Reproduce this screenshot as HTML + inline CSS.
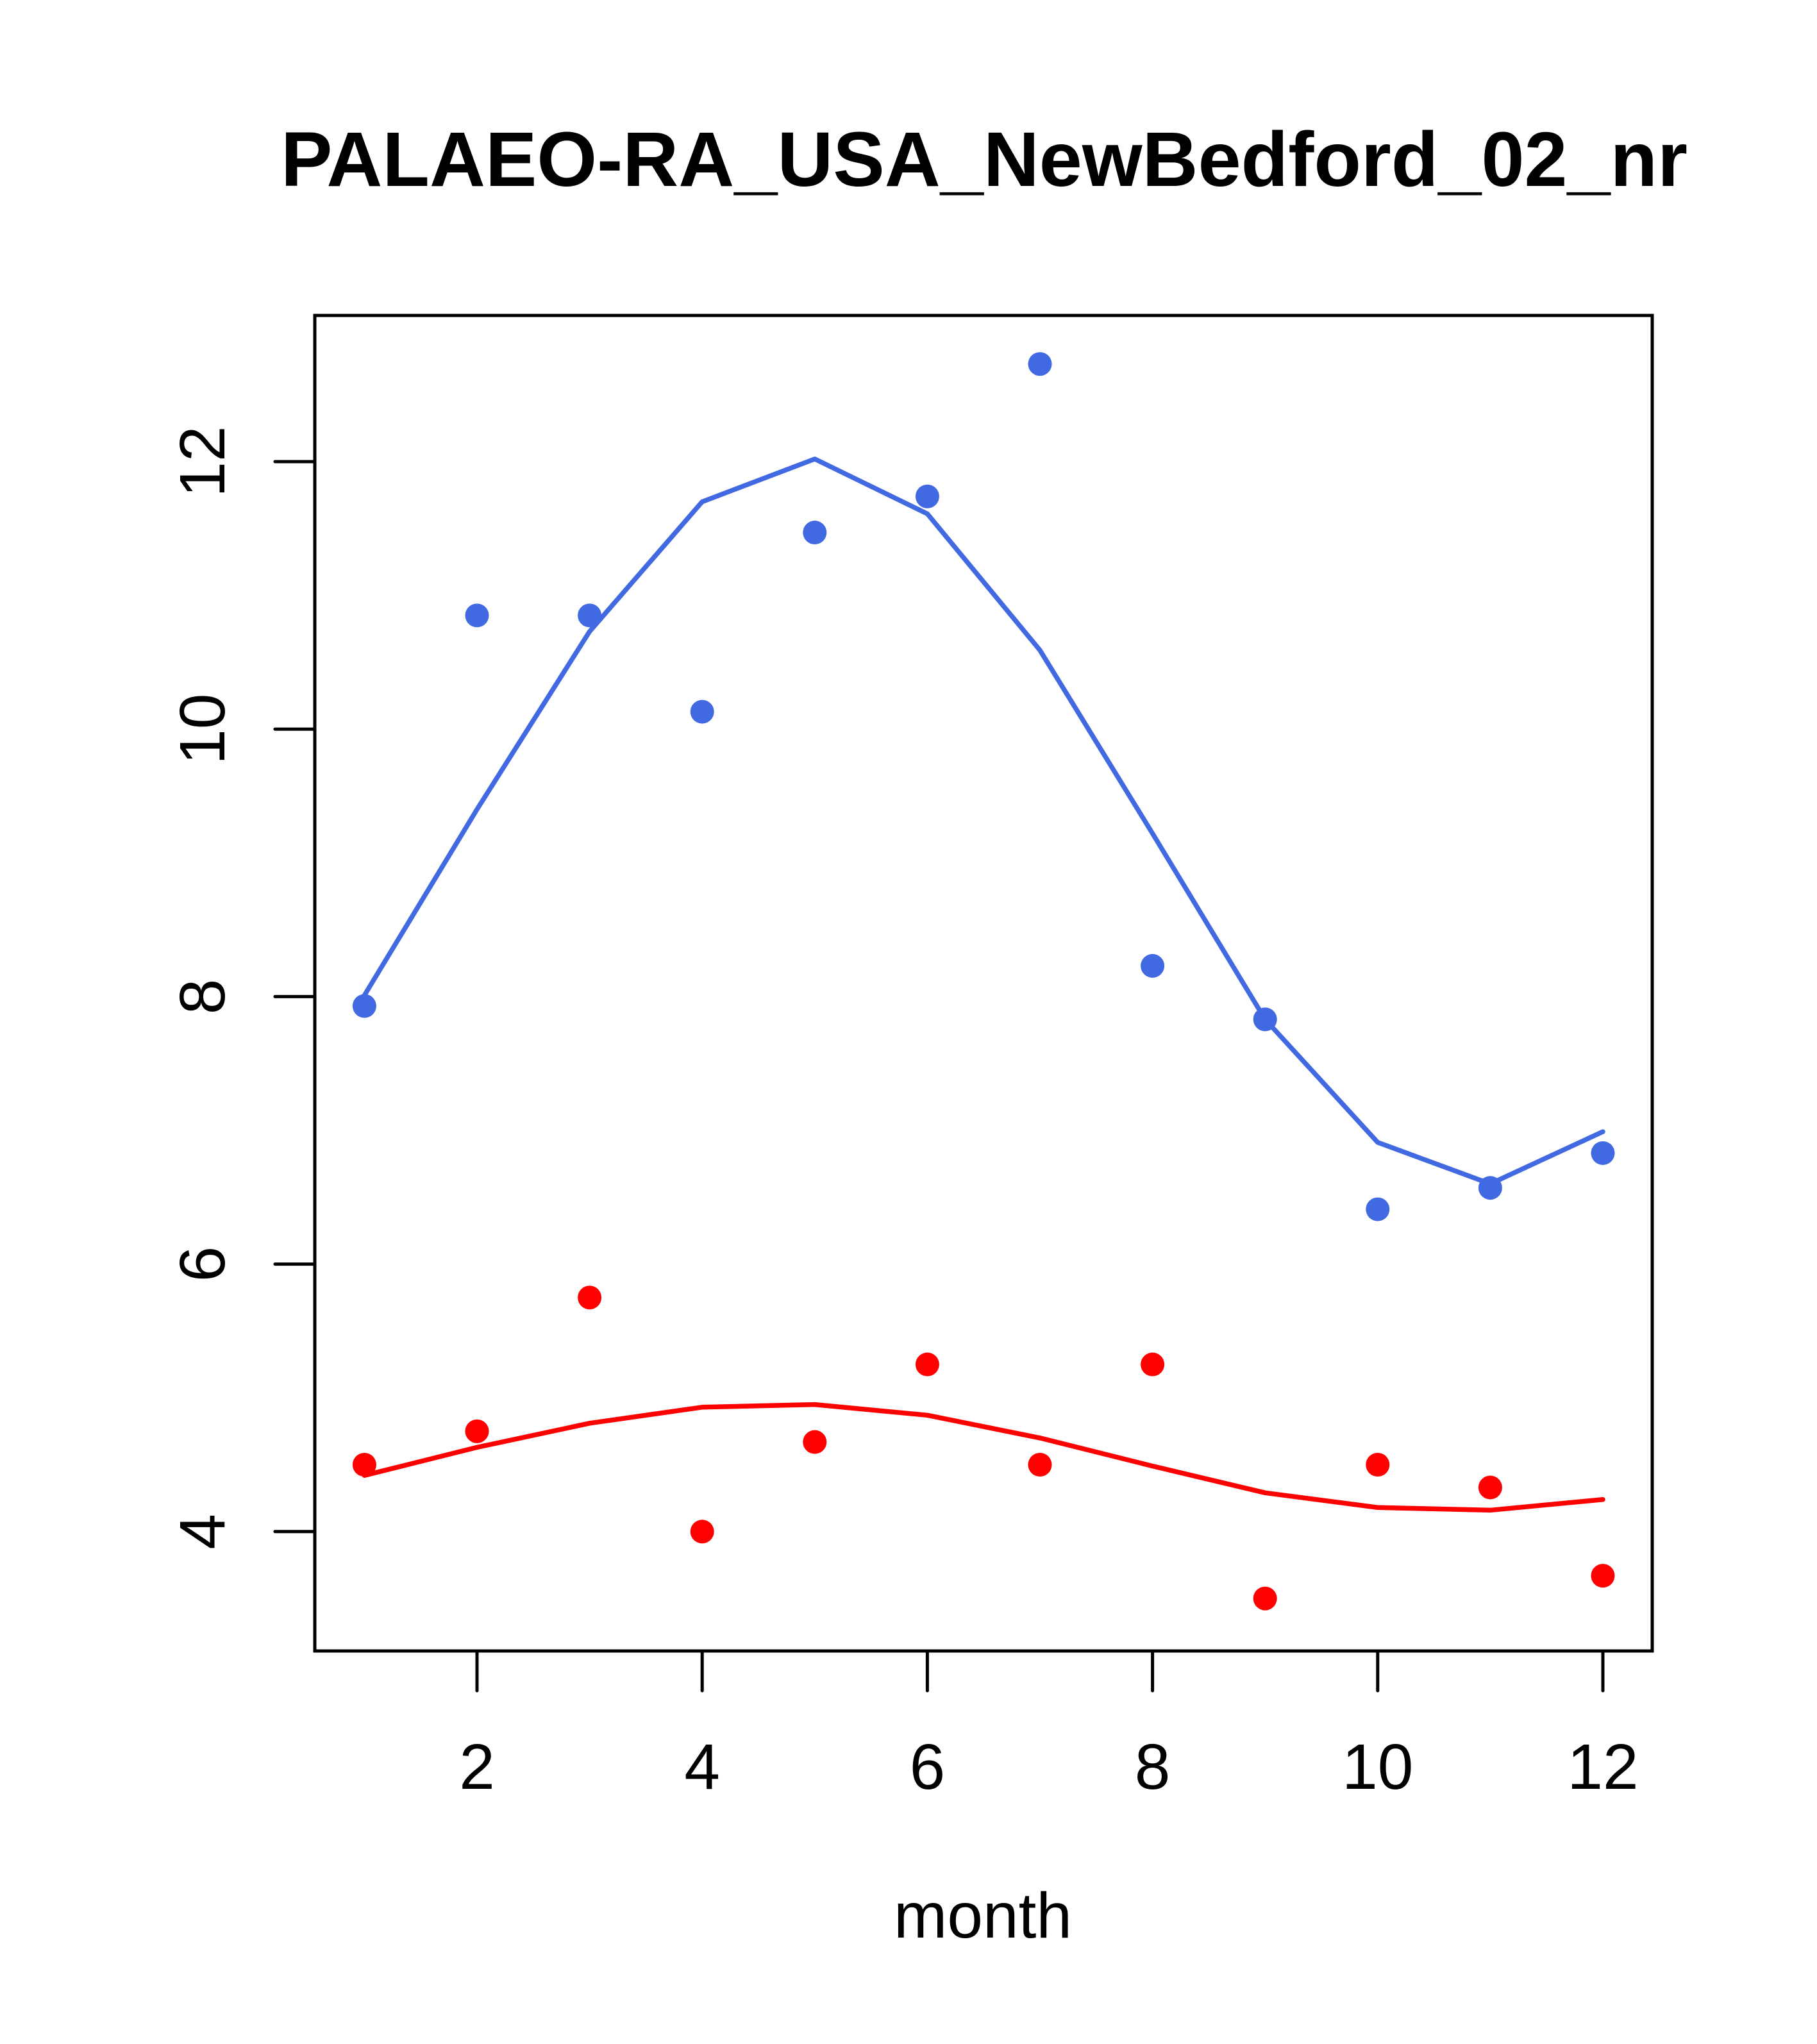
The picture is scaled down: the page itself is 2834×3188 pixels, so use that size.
<!DOCTYPE html>
<html><head><meta charset="utf-8"><style>body{margin:0;background:#fff}svg{display:block}text{font-family:"Liberation Sans",sans-serif}</style></head>
<body>
<svg id="chart" width="2834" height="3188" viewBox="0 0 2834 3188" xmlns="http://www.w3.org/2000/svg">
<rect width="2834" height="3188" fill="#fff"/>
<text x="1535" y="290" font-size="120.5" font-weight="bold" text-anchor="middle">PALAEO-RA_USA_NewBedford_02_nr</text>
<rect x="491" y="492" width="2086" height="2083" fill="none" stroke="#000" stroke-width="5"/>
<text x="1533" y="3022" font-size="100" text-anchor="middle">month</text>
<g id="marks"></g>
</svg>
<script>
const months=[1,2,3,4,5,6,7,8,9,10,11,12];
const bluePoints=[7.93,10.85,10.85,10.13,11.47,11.74,12.73,8.23,7.83,6.41,6.57,6.83];
const blueLine=[8.01,9.40,10.73,11.70,12.02,11.61,10.59,9.22,7.83,6.91,6.60,6.99];
const redPoints=[4.50,4.75,5.75,4.00,4.67,5.25,4.50,5.25,3.50,4.50,4.33,3.67];
const redLine=[4.42,4.63,4.81,4.93,4.95,4.87,4.70,4.49,4.29,4.18,4.16,4.24];
const xTicks=[2,4,6,8,10,12];
const yTicks=[4,6,8,10,12];
const NS="http://www.w3.org/2000/svg";
const X=v=>744+(v-2)*175.6;
const Y=v=>720+(12-v)*208.6;
const g=document.getElementById('marks');
function mk(t,a){const e=document.createElementNS(NS,t);for(const k in a)e.setAttribute(k,a[k]);g.appendChild(e);return e;}
xTicks.forEach(t=>{
  const l=mk('line',{x1:X(t),x2:X(t),y1:2575,y2:2637,stroke:'#000','stroke-width':5,'stroke-linecap':'round'});
  
  
  const tx=mk('text',{x:X(t),y:2790,'font-size':100,'text-anchor':'middle'});tx.textContent=t;
  
  
});
yTicks.forEach(t=>{
  const l=mk('line',{x1:429,x2:491,y1:Y(t),y2:Y(t),stroke:'#000','stroke-width':5,'stroke-linecap':'round'});
  
  
  const tx=mk('text',{x:0,y:0,'font-size':100,'text-anchor':'middle',transform:`translate(350,${Y(t)}) rotate(-90)`});tx.textContent=t;
  
  
});
function line(vals,col,name){
  const p=mk('polyline',{points:vals.map((v,i)=>X(months[i])+','+Y(v)).join(' '),fill:'none',stroke:col,'stroke-width':7.5,'stroke-linejoin':'round','stroke-linecap':'round'});
  
  
}
function pts(vals,col,name){
  vals.forEach((v,i)=>{
    const c=mk('circle',{cx:X(months[i]),cy:Y(v),r:18.5,fill:col});
    
    
  });
}
line(blueLine,'#4169E1','blue-fit-line');
line(redLine,'#FF0000','red-fit-line');
pts(bluePoints,'#4169E1','blue-point');
pts(redPoints,'#FF0000','red-point');
</script>
</body></html>
